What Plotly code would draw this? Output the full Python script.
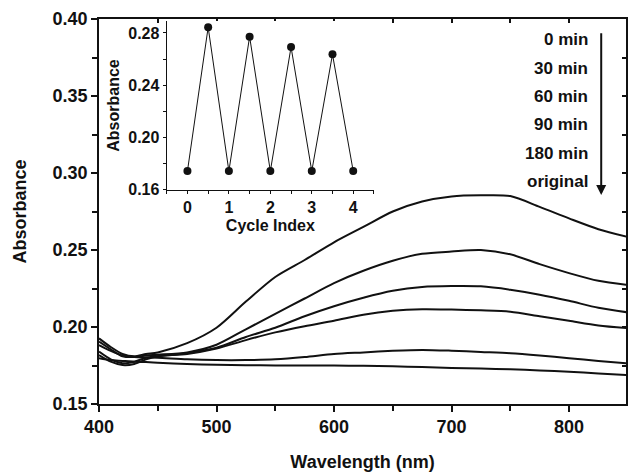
# absorbance spectra vs time + cycling inset
import plotly.graph_objects as go

wavelength = [400, 410, 420, 430, 440, 450, 475, 500, 525, 550, 575,
              600, 625, 650, 675, 700, 725, 750, 775, 800, 825, 850]

abs_0min = [.1926, .1870, .1825, .1810, .1825, .1835, .1895, .1995, .2165, .2325, .2435,
            .2550, .2650, .2750, .2815, .2848, .2855, .2850, .2780, .2705, .2635, .2585]
abs_30min = [.1905, .1855, .1810, .1805, .1815, .1820, .1835, .1885, .1985, .2085, .2185,
             .2285, .2365, .2430, .2475, .2490, .2500, .2472, .2408, .2350, .2300, .2273]
abs_60min = [.1840, .1790, .1765, .1775, .1800, .1810, .1830, .1865, .1935, .1995, .2070,
             .2135, .2190, .2235, .2260, .2266, .2264, .2242, .2210, .2170, .2125, .2095]
abs_90min = [.1818, .1775, .1753, .1760, .1790, .1810, .1825, .1860, .1915, .1965, .2005,
             .2040, .2080, .2105, .2115, .2113, .2108, .2099, .2070, .2040, .2010, .1992]
abs_180min = [.1883, .1845, .1815, .1805, .1802, .1800, .1790, .1785, .1785, .1790, .1805,
              .1825, .1835, .1845, .1851, .1846, .1838, .1830, .1815, .1797, .1780, .1764]
abs_original = [.1797, .1785, .1780, .1775, .1772, .1768, .1760, .1755, .1752, .1750, .1750,
                .1750, .1748, .1745, .1740, .1734, .1730, .1725, .1718, .1710, .1698, .1688]

series = [("0 min", abs_0min), ("30 min", abs_30min), ("60 min", abs_60min),
          ("90 min", abs_90min), ("180 min", abs_180min), ("original", abs_original)]

cycle_index = [0, 0.5, 1, 1.5, 2, 2.5, 3, 3.5, 4]
cycle_abs = [0.174, 0.2844, 0.174, 0.2772, 0.174, 0.2692, 0.174, 0.2636, 0.174]

FONT = "Liberation Sans, Arial, sans-serif"
INK = "#111111"

fig = go.Figure()

for name, ys in series:
    fig.add_trace(go.Scatter(
        x=wavelength, y=ys, mode="lines", name=name,
        line=dict(color=INK, width=2, shape="spline", smoothing=0.8),
        showlegend=False
    ))

# inset
fig.add_trace(go.Scatter(
    x=cycle_index, y=cycle_abs, mode="lines+markers",
    line=dict(color=INK, width=1), marker=dict(color=INK, size=8),
    xaxis="x2", yaxis="y2", showlegend=False
))

tickf = dict(family=FONT, size=18, color=INK, weight="bold")
insf = dict(family=FONT, size=16, color=INK, weight="bold")

fig.update_layout(
    width=629, height=475,
    margin=dict(l=99, r=1, t=19, b=71),
    paper_bgcolor="white", plot_bgcolor="white",
    font=dict(family=FONT, color=INK),
    xaxis=dict(
        range=[400, 848.5], tickvals=[400, 500, 600, 700, 800],
        ticks="outside", ticklen=6, tickwidth=1.5, tickcolor=INK,
        minor=dict(dtick=50, ticks="outside", ticklen=5, tickwidth=1.5, tickcolor=INK),
        showline=True, linecolor=INK, linewidth=1.5, mirror=True,
        showgrid=False, zeroline=False, tickfont=tickf,
        title=dict(text="Wavelength (nm)", font=dict(family=FONT, size=18, weight="bold"),
                   standoff=19),
    ),
    yaxis=dict(
        range=[0.15, 0.40], tickvals=[0.15, 0.20, 0.25, 0.30, 0.35, 0.40], tickformat=".2f",
        ticks="outside", ticklen=6, tickwidth=1.5, tickcolor=INK,
        minor=dict(dtick=0.025, ticks="outside", ticklen=5, tickwidth=1.5, tickcolor=INK),
        showline=True, linecolor=INK, linewidth=1.5, mirror=True,
        showgrid=False, zeroline=False, tickfont=tickf,
        title=dict(text="Absorbance", font=dict(family=FONT, size=18, weight="bold"),
                   standoff=21),
    ),
    # inside ticks on the top and right borders
    xaxis3=dict(
        overlaying="x", side="top", range=[400, 848.5], tickvals=[400, 500, 600, 700, 800],
        ticks="inside", ticklen=4, tickwidth=1.5, tickcolor=INK, showticklabels=False,
        minor=dict(dtick=50, ticks="inside", ticklen=4, tickwidth=1.5, tickcolor=INK),
        showgrid=False, zeroline=False, showline=False,
    ),
    yaxis3=dict(
        overlaying="y", side="right", range=[0.15, 0.40],
        tickvals=[0.15, 0.20, 0.25, 0.30, 0.35, 0.40],
        ticks="inside", ticklen=4, tickwidth=1.5, tickcolor=INK, showticklabels=False,
        minor=dict(dtick=0.025, ticks="inside", ticklen=4, tickwidth=1.5, tickcolor=INK),
        showgrid=False, zeroline=False, showline=False,
    ),
    xaxis2=dict(
        domain=[0.1285, 0.5217], anchor="y2", range=[-0.5, 4.5],
        tickvals=[0, 1, 2, 3, 4], ticks="outside", ticklen=3, tickcolor=INK,
        minor=dict(dtick=0.5, ticks="outside", ticklen=3, tickcolor=INK),
        showline=True, linecolor=INK, linewidth=1.2, showgrid=False, zeroline=False,
        tickfont=insf,
        title=dict(text="Cycle Index", font=dict(family=FONT, size=16, weight="bold"),
                   standoff=4),
    ),
    yaxis2=dict(
        domain=[0.5558, 0.9948], anchor="x2", range=[0.1595, 0.2892],
        tickvals=[0.16, 0.20, 0.24, 0.28], tickformat=".2f",
        ticks="outside", ticklen=3, tickcolor=INK,
        minor=dict(dtick=0.02, ticks="outside", ticklen=3, tickcolor=INK),
        showline=True, linecolor=INK, linewidth=1.2, showgrid=False, zeroline=False,
        tickfont=insf, ticklabelstandoff=0,
        title=dict(text="Absorbance", font=dict(family=FONT, size=16, weight="bold"),
                   standoff=4),
    ),
)

# dummy trace so the border-tick axes get drawn
fig.add_trace(go.Scatter(x=[400], y=[0.15], xaxis="x3", yaxis="y3", mode="markers",
                         marker=dict(opacity=0), showlegend=False, hoverinfo="skip"))

# time labels with the downward arrow
label_y = [0.3864, 0.3680, 0.3495, 0.3312, 0.3128, 0.2944]
for (name, _), ly in zip(series, label_y):
    fig.add_annotation(x=817.5, y=ly, xref="x", yref="y", text=name, showarrow=False,
                       xanchor="right", yanchor="middle",
                       font=dict(family=FONT, size=17, color=INK, weight="bold"))

fig.add_annotation(x=827.4, y=0.2857, ax=827.4, ay=0.3918, xref="x", yref="y",
                   axref="x", ayref="y", text="", showarrow=True,
                   arrowhead=2, arrowsize=1, arrowwidth=2, arrowcolor=INK)

fig.write_html("out.html", config={"displayModeBar": False},
               post_script="document.body.style.margin='0';")
